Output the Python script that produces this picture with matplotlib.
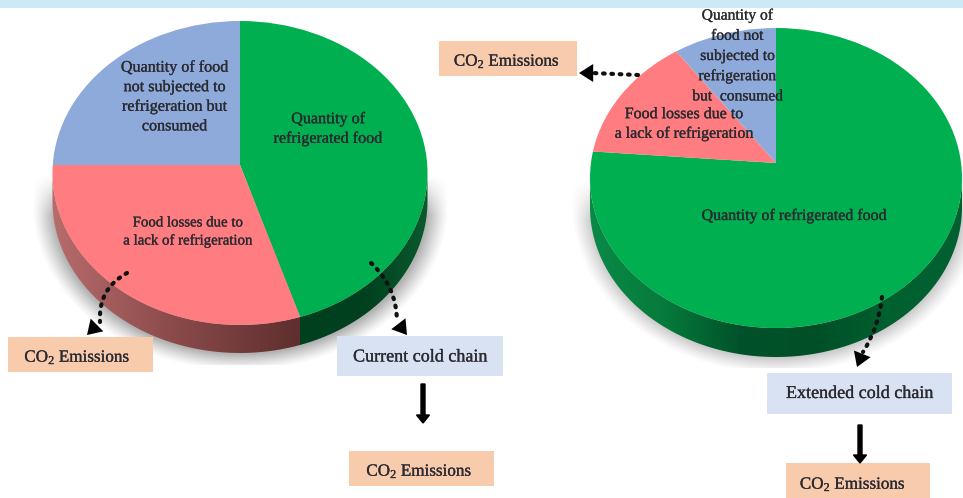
import numpy as np
import matplotlib
matplotlib.use('Agg')
import matplotlib.pyplot as plt
import matplotlib.patheffects as pe
from matplotlib.patches import Ellipse, Polygon, Rectangle, FancyArrowPatch
from matplotlib.colors import LinearSegmentedColormap

plt.rcParams['font.family'] = ['Liberation Serif', 'DejaVu Serif']
plt.rcParams['mathtext.fontset'] = 'custom'
plt.rcParams['mathtext.rm'] = 'Liberation Serif'
plt.rcParams['mathtext.default'] = 'rm'

# shares of each pie
current_values = [44, 31, 25]
extended_values = [76, 12.4, 11.6]
colors = ['#00b050', '#ff7c80', '#8eaadb']

green_label = 'Quantity of\nrefrigerated food'
green_label2 = 'Quantity of refrigerated food'
red_label = 'Food losses due to\na lack of refrigeration'
blue_label = 'Quantity of food\nnot subjected to\nrefrigeration but\nconsumed'
blue_label2 = 'Quantity of\nfood not\nsubjected to\nrefrigeration\nbut  consumed'

co2 = 'CO$_2$ Emissions'
TXT = '#2a2a30'
STROKE = [pe.withStroke(linewidth=0.2, foreground=TXT)]

fig = plt.figure(figsize=(9.63, 4.98), dpi=100)
ax = fig.add_axes([0, 0, 1, 1])


def shadow(cx, cy, rx, ry, strength, ytop, ycut):
    xx, yy = np.meshgrid(np.arange(0, 963), np.arange(0, 498))
    d = np.sqrt(((xx - cx) / rx) ** 2 + ((yy - cy) / ry) ** 2)
    a = np.clip((1.0 - d) / 0.1, 0, 1) ** 1.2 * strength
    a = a * np.clip((yy - ytop) / 40.0, 0, 1) * (yy < ycut)
    img = np.zeros((498, 963, 4))
    img[..., :3] = 0.5
    img[..., 3] = a
    ax.imshow(img, extent=(0, 963, 498, 0), aspect='auto', zorder=1)


def wall(cx, cy, rx, ry, depth, xs, stops, z=2):
    th = np.linspace(0, np.pi, 200)
    top = np.c_[cx + rx * np.cos(th), cy + ry * np.sin(th)]
    bot = np.c_[cx + rx * np.cos(th), cy + ry * np.sin(th) + depth][::-1]
    poly = Polygon(np.r_[top, bot], closed=True, transform=ax.transData)
    cmap = LinearSegmentedColormap.from_list('w', stops)
    grad = np.linspace(0, 1, 256).reshape(1, -1)
    im = ax.imshow(grad, cmap=cmap, extent=(xs[0], xs[1], cy + ry + depth + 2, cy - 2),
                   aspect='auto', zorder=z)
    im.set_clip_path(poly)


def pie(values, cx, cy, rx, ry, hub):
    wedges, _ = ax.pie(values, colors=colors, startangle=270, counterclock=True,
                       center=hub, radius=500, frame=True)
    for w in wedges:
        w.set_zorder(3)
        w.set_clip_on(True)
        w.set_clip_path(Ellipse((cx, cy), 2 * rx, 2 * ry, transform=ax.transData))


def label(x, y, text, size, spacing=1.3):
    ax.text(x, y, text, ha='center', va='center', fontsize=size, color=TXT,
            linespacing=spacing, zorder=6, path_effects=STROKE)


def box(x0, y0, x1, y1, color, text, size, dx=0, dy=0):
    ax.add_patch(Rectangle((x0, y0), x1 - x0, y1 - y0, fc=color, ec='none', zorder=5))
    ax.text((x0 + x1) / 2 + dx, (y0 + y1) / 2 + dy, text, ha='center', va='center',
            fontsize=size, color=TXT, zorder=6, path_effects=STROKE)


def dotted(p0, p1, rad, head_from):
    ax.add_patch(FancyArrowPatch(p0, head_from, arrowstyle='-', connectionstyle='arc3,rad=%g' % rad,
                                 linestyle=(0, (0.4, 1.6)), linewidth=3, color='#111111',
                                 shrinkA=0, shrinkB=0, capstyle='round', zorder=7))
    ax.add_patch(FancyArrowPatch(head_from, p1, arrowstyle='-|>,head_length=0.6,head_width=0.38',
                                 mutation_scale=17, linewidth=0, color='#000000',
                                 shrinkA=0, shrinkB=0, zorder=7))


# left pie
shadow(240, 205, 208, 165, 0.6, 175, 365)
wall(240, 173, 187.5, 152, 28, (52, 300), ['#b86c6c', '#8a4a4a', '#5f2e2e'])
wall(240, 173, 187.5, 152, 28, (300, 428), ['#00401f', '#00401f', '#0a5a2e'], z=2.1)
pie(current_values, 240, 173, 187.5, 152, (240, 165))

# right pie
shadow(776, 205, 205, 168, 0.45, 180, 368)
wall(776, 178, 186, 150, 29, (590, 962), ['#0a8a46', '#067a3c', '#00522a', '#004f27', '#00602f', '#00602f'])
pie(extended_values, 776, 178, 186, 150, (776, 163))

# labels on the pies
label(174.5, 97, blue_label, 11.6)
label(328, 129, green_label, 11.6)
label(188, 232, red_label, 10.7, 1.4)
label(737.5, 56, blue_label2, 11.2, 1.35)
label(684, 124, red_label, 11.5)
label(794, 216, green_label2, 11.5)

# boxes
box(8, 337, 153, 372, '#f8cbad', co2, 12.3, -3, 3)
box(337, 336, 503, 376, '#d9e2f3', 'Current cold chain', 13, 0, 1)
box(349, 451, 494, 486, '#f8cbad', co2, 12.3, -2, 3)
box(439, 41, 577, 76, '#f8cbad', co2, 12.3, -1, 3)
box(767, 373, 952, 414, '#d9e2f3', 'Extended cold chain', 13, 0, 0)
box(786, 463, 930, 498, '#f8cbad', co2, 12.3, -5, 4)

# dotted arrows
dotted((127, 273), (87, 335), 0.32, (100, 322))
dotted((371, 263), (407, 335), -0.22, (397, 322))
dotted((638, 75), (579, 73), 0.0, (592, 73))
dotted((882, 297), (857, 367), -0.12, (863, 352))

# solid arrows
ax.arrow(423, 384, 0, 31, width=4, head_width=13, head_length=8, length_includes_head=False,
         color='black', zorder=7)
ax.arrow(860, 425, 0, 30, width=4, head_width=13, head_length=8, length_includes_head=False,
         color='black', zorder=7)

# strip along the top
ax.add_patch(Rectangle((0, 0), 963, 7.5, fc='#cbe9f6', ec='none', zorder=8))

ax.set_xlim(0, 963)
ax.set_ylim(498, 0)
ax.set_aspect('auto')
ax.axis('off')
fig.savefig('out.png', dpi=100)
